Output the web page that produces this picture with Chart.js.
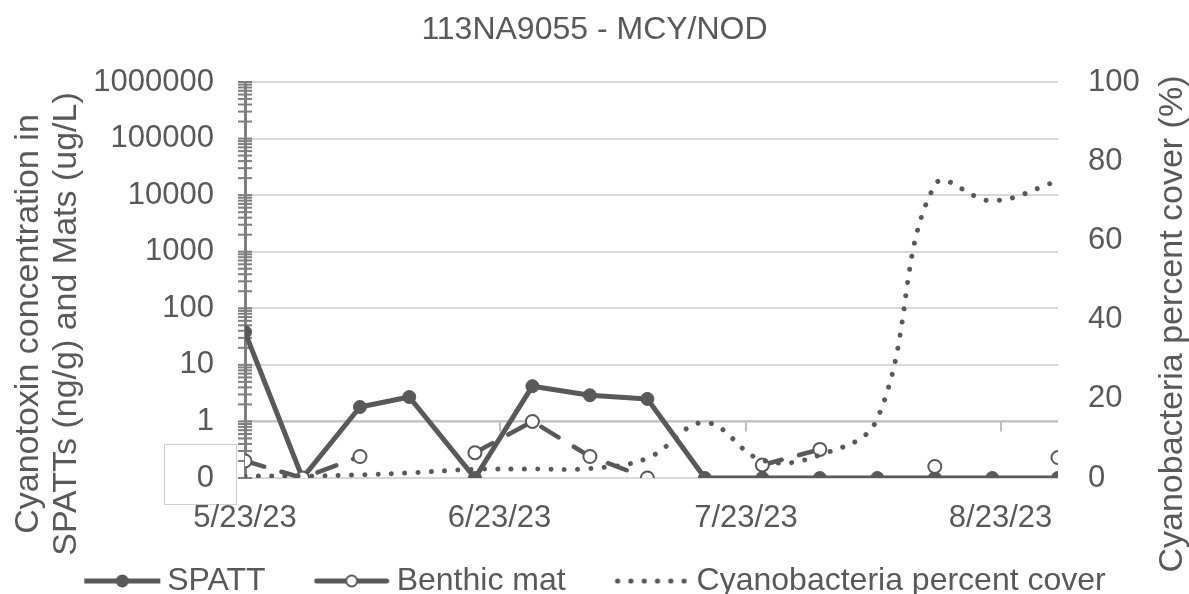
<!DOCTYPE html>
<html>
<head>
<meta charset="utf-8">
<script src="https://cdn.jsdelivr.net/npm/chart.js@4.4.1/dist/chart.umd.min.js"></script>
<style>
html, body { margin: 0; padding: 0; background: #ffffff; overflow: hidden; }
#clip { width: 1189px; height: 594px; overflow: hidden; position: relative; }
#wrap { width: 1189px; height: 607px; position: absolute; left: 0; top: 0; }
</style>
</head>
<body>
<div id="clip"><div id="wrap"><canvas id="c"></canvas></div></div>
<script>
// ---------------- data ----------------
const chartTitle = '113NA9055 - MCY/NOD';
const seriesNames = ['SPATT', 'Benthic mat', 'Cyanobacteria percent cover'];
const sampleDates = ['5/23/23', '5/30/23', '6/6/23', '6/12/23', '6/20/23', '6/27/23', '7/4/23', '7/11/23',
                     '7/18/23', '7/25/23', '8/1/23', '8/8/23', '8/15/23', '8/22/23', '8/30/23'];
const spattValues   = [38, 0, 1.8, 2.7, 0, 4.2, 2.9, 2.5, 0, 0, 0, 0, 0, 0, 0];
const benthicValues = [0.2, 0, 0.24, null, 0.28, 1.0, 0.24, 0, null, 0.17, 0.32, null, 0.16, null, 0.23];
const coverValues   = [0.5, 0.5, 0.8, 1.3, 2.2, 2.3, 2.4, 5, 14, 4.5, 5.8, 15, 74, 70, 75];
const xTickDates    = ['5/23/23', '6/23/23', '7/23/23', '8/23/23'];
const yTickValues   = [0.1, 1, 10, 100, 1000, 10000, 100000, 1000000];
const yTickLabels   = ['0', '1', '10', '100', '1000', '10000', '100000', '1000000'];
const y2TickValues  = [0, 20, 40, 60, 80, 100];
const leftAxisTitle = ['Cyanotoxin concentration in', 'SPATTs (ng/g) and Mats (ug/L)'];
const rightAxisTitle = 'Cyanobacteria percent cover (%)';

// ---------------- helpers ----------------
const FONT = "'Liberation Sans', Arial, sans-serif";
const GREY = '#595959';
function dayNum(s) {
  const [m, d, y] = s.split('/').map(Number);
  return Date.UTC(2000 + y, m - 1, d) / 86400000;
}
const day0 = dayNum(sampleDates[0]);
const xDays = sampleDates.map(s => dayNum(s) - day0);
const xTickDays = xTickDates.map(s => dayNum(s) - day0);
function dayLabel(v) {
  const dt = new Date((v + day0) * 86400000);
  return (dt.getUTCMonth() + 1) + '/' + dt.getUTCDate() + '/' + String(dt.getUTCFullYear()).slice(2);
}
const LOG_FLOOR = yTickValues[0]; // zero values sit on the axis floor labelled "0"
const toLog = v => (v === null ? null : (v === 0 ? LOG_FLOOR : v));
// log minor ticks 1..9 x 10^n between axis floor and top
const yAllTicks = [];
for (let i = 0; i < yTickValues.length - 1; i++) {
  for (let k = 1; k <= 9; k++) yAllTicks.push(+(yTickValues[i] * k).toPrecision(6));
}
yAllTicks.push(yTickValues[yTickValues.length - 1]);
const isDecade = v => yTickValues.some(t => Math.abs(t - v) / t < 1e-6);

// legend symbols (canvas centred on the legend box; symbol drawn from box+1 to box+77)
const LEG_BOX = 68;
function makeSymbol(kind) {
  const W = 90, H = 24, c = document.createElement('canvas');
  c.width = W; c.height = H;
  const g = c.getContext('2d');
  const x0 = W / 2 - LEG_BOX / 2 + 1, x1 = x0 + 76, cy = 12, cx = (x0 + x1) / 2;
  g.strokeStyle = GREY; g.fillStyle = GREY;
  if (kind === 0) {
    g.lineWidth = 5; g.beginPath(); g.moveTo(x0, cy); g.lineTo(x1, cy); g.stroke();
    g.beginPath(); g.arc(cx, cy, 6.5, 0, Math.PI * 2); g.fill();
  } else if (kind === 1) {
    g.lineWidth = 5; g.lineCap = 'round';
    g.beginPath(); g.moveTo(x0 + 3, cy); g.lineTo(cx - 6, cy); g.stroke();
    g.beginPath(); g.moveTo(cx + 6, cy); g.lineTo(x1 - 3, cy); g.stroke();
    g.lineWidth = 2; g.fillStyle = '#fff';
    g.beginPath(); g.arc(cx, cy, 5.5, 0, Math.PI * 2); g.fill(); g.stroke();
  } else {
    for (let i = 0; i < 6; i++) {
      g.beginPath(); g.arc(x0 + 4 + i * 13.3, cy, 2.6, 0, Math.PI * 2); g.fill();
    }
  }
  return c;
}
const legendSymbols = [makeSymbol(0), makeSymbol(1), makeSymbol(2)];

// decoration plugin: y-axis cross ticks, x axis at value 1, axis titles, label box
const deco = {
  id: 'deco',
  beforeDraw(chart) {
    const { ctx, chartArea } = chart;
    const py = chart.scales.y.getPixelForValue(LOG_FLOOR);
    ctx.save();
    ctx.fillStyle = '#ffffff';
    ctx.fillRect(chartArea.left - 81, py - 34, 73, 61);
    ctx.strokeStyle = '#d0d0d0'; ctx.lineWidth = 1;
    ctx.strokeRect(chartArea.left - 80.5, py - 33.5, 72, 60);
    ctx.restore();
  },
  beforeDatasetsDraw(chart) {
    const { ctx, chartArea } = chart;
    const ys = chart.scales.y, xs = chart.scales.x;
    ctx.save();
    const py1 = ys.getPixelForValue(1);
    ctx.strokeStyle = '#bfbfbf'; ctx.lineWidth = 2;
    ctx.beginPath(); ctx.moveTo(chartArea.left, py1); ctx.lineTo(chartArea.right, py1); ctx.stroke();
    xs.ticks.forEach(t => {
      if (t.value === 0) return;
      const px = Math.round(xs.getPixelForValue(t.value));
      ctx.beginPath(); ctx.moveTo(px, py1); ctx.lineTo(px, py1 + 10); ctx.stroke();
    });
    ctx.strokeStyle = '#7f7f7f'; ctx.lineWidth = 2;
    const ax = chartArea.left;
    ys.ticks.forEach(t => {
      const py = ys.getPixelForValue(t.value);
      ctx.beginPath(); ctx.moveTo(ax - 7, py); ctx.lineTo(ax + 7, py); ctx.stroke();
    });
    ctx.restore();
  },
  afterDraw(chart) {
    const ctx = chart.ctx;
    const cy = 324;
    ctx.save();
    ctx.fillStyle = GREY;
    ctx.font = '34px ' + FONT;
    ctx.textAlign = 'center';
    ctx.textBaseline = 'alphabetic';
    const leftBase = [38, 76];
    leftAxisTitle.forEach((line, i) => {
      ctx.save(); ctx.translate(leftBase[i], cy); ctx.rotate(-Math.PI / 2); ctx.fillText(line, 0, 0); ctx.restore();
    });
    ctx.save(); ctx.translate(1182, cy); ctx.rotate(-Math.PI / 2); ctx.fillText(rightAxisTitle, 0, 0); ctx.restore();
    ctx.restore();
  }
};

Chart.defaults.font.family = FONT;
Chart.defaults.color = GREY;

new Chart(document.getElementById('c'), {
  type: 'line',
  data: {
    datasets: [
      {
        label: seriesNames[0], yAxisID: 'y', order: 2,
        data: xDays.map((d, i) => ({ x: d, y: toLog(spattValues[i]) })),
        borderColor: GREY, borderWidth: 5, borderJoinStyle: 'round',
        pointRadius: 6.5, pointBackgroundColor: GREY, pointBorderColor: GREY, pointBorderWidth: 1,
        tension: 0, spanGaps: false
      },
      {
        label: seriesNames[1], yAxisID: 'y', order: 1,
        data: xDays.map((d, i) => ({ x: d, y: toLog(benthicValues[i]) })),
        borderColor: GREY, borderWidth: 4.5, borderDash: [20, 18], borderCapStyle: 'round',
        pointRadius: 6.5, pointBackgroundColor: '#ffffff', pointBorderColor: GREY, pointBorderWidth: 2,
        tension: 0, spanGaps: false
      },
      {
        label: seriesNames[2], yAxisID: 'y2', order: 0,
        data: xDays.map((d, i) => ({ x: d, y: coverValues[i] })),
        borderColor: GREY, borderWidth: 5, borderDash: [0.01, 13.3], borderCapStyle: 'round',
        pointRadius: 0, tension: 0.4, cubicInterpolationMode: 'default'
      }
    ]
  },
  options: {
    responsive: true, maintainAspectRatio: false, animation: false,
    layout: { padding: 0 },
    plugins: {
      title: {
        display: true, text: chartTitle, color: GREY,
        font: { family: FONT, size: 32, weight: 'normal' },
        padding: { top: 11, bottom: 32.6 }
      },
      legend: {
        position: 'bottom',
        labels: {
          usePointStyle: true, pointStyleWidth: LEG_BOX, boxHeight: 32, padding: 47,
          color: GREY, font: { family: FONT, size: 32 },
          generateLabels(chart) {
            const items = Chart.defaults.plugins.legend.labels.generateLabels(chart);
            items.sort((a, b) => a.datasetIndex - b.datasetIndex);
            items.forEach(it => { it.pointStyle = legendSymbols[it.datasetIndex]; it.fontColor = GREY; });
            return items;
          }
        }
      },
      tooltip: { enabled: false }
    },
    scales: {
      x: {
        type: 'linear', position: 'bottom',
        min: xDays[0], max: xDays[xDays.length - 1],
        afterBuildTicks: s => { s.ticks = xTickDays.map(v => ({ value: v })); },
        ticks: { autoSkip: false, maxRotation: 0, padding: 14, color: GREY, font: { size: 31 }, callback: v => dayLabel(v) },
        grid: { display: false },
        border: { display: false },
        afterFit: s => { s.height = 40; s._computeLabelArea = () => undefined; }
      },
      y: {
        type: 'logarithmic', position: 'left',
        min: yTickValues[0], max: yTickValues[yTickValues.length - 1],
        afterBuildTicks: s => { s.ticks = yAllTicks.map(v => ({ value: v, major: isDecade(v) })); },
        ticks: {
          autoSkip: false, padding: 31, color: GREY, font: { size: 31 },
          callback: v => { const i = yTickValues.findIndex(t => Math.abs(t - v) / t < 1e-6); return i >= 0 ? yTickLabels[i] : ''; }
        },
        grid: { drawTicks: false, lineWidth: 2, color: c => (c.tick && isDecade(c.tick.value) ? '#d9d9d9' : 'rgba(0,0,0,0)') },
        border: { display: true, color: '#7f7f7f', width: 3 },
        afterFit: s => { s.width = 245; }
      },
      y2: {
        type: 'linear', position: 'right', min: 0, max: 100,
        afterBuildTicks: s => { s.ticks = y2TickValues.map(v => ({ value: v })); },
        ticks: { autoSkip: false, padding: 30, color: GREY, font: { size: 31 } },
        grid: { display: false, drawOnChartArea: false, drawTicks: false },
        border: { display: false },
        afterFit: s => { s.width = 131; }
      }
    }
  },
  plugins: [deco]
});
</script>
</body>
</html>
